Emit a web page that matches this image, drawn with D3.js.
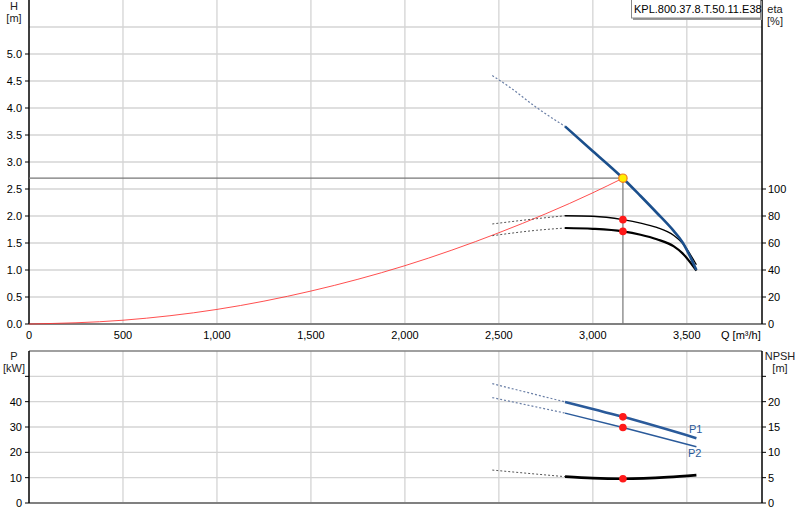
<!DOCTYPE html>
<html><head><meta charset="utf-8">
<script src="https://cdn.jsdelivr.net/npm/d3@7"></script>
<style>
body{margin:0;background:#fff;}
svg{display:block;font-family:"Liberation Sans",Arial,sans-serif;}
</style></head><body>
<svg id="c" width="800" height="520"></svg>
<script>
// ---------- data ----------
const qTicks = [0,500,1000,1500,2000,2500,3000,3500];
const hTicks = [0,0.5,1,1.5,2,2.5,3,3.5,4,4.5,5];
const hGrid = [0.5,1,1.5,2,2.5,3,3.5,4,4.5,5,5.5];
const etaTicks = [0,20,40,60,80,100];
const pTicks = [0,10,20,30,40,50];
const npshTicks = [0,5,10,15,20,25];

const hDashQ = [2465,2560,2700,2852];
const hDashV = [4.60,4.38,4.01,3.66];
const hQ = [2852,3000,3160,3254,3340,3431,3476,3551];
const hV = [3.66,3.20,2.70,2.37,2.06,1.72,1.52,1.00];

const eta1DashQ = [2465,2700,2852];
const eta1DashV = [74.1,78.0,80.2];
const eta1Q = [2852,3000,3160,3254,3340,3431,3476,3551];
const eta1V = [80.2,79.8,77.3,74.8,71.5,65.6,60.0,43.9];

const eta2DashQ = [2465,2700,2852];
const eta2DashV = [65.4,69.4,71.1];
const eta2Q = [2852,3000,3160,3254,3340,3431,3476,3551];
const eta2V = [71.1,70.5,68.6,66.1,62.8,57.5,52.5,39.5];

const sysQ = [0,500,1000,1500,2000,2500,3000,3160];
const sysV = [0,0.07,0.27,0.61,1.08,1.69,2.43,2.70];

const p1DashQ = [2465,2852], p1DashV = [47.1,39.9];
const p1Q = [2852,3160,3551], p1V = [39.9,34.0,25.6];
const p2DashQ = [2465,2852], p2DashV = [41.6,35.5];
const p2Q = [2852,3160,3551], p2V = [35.5,29.8,22.2];

const npshDashQ = [2465,2700,2852], npshDashV = [6.5,5.7,5.2];
const npshQ = [2852,3000,3160,3400,3551], npshV = [5.2,4.9,4.8,5.1,5.5];

const opQ = 3160, opH = 2.70, opEta1 = 77.3, opEta2 = 68.6, opP1 = 34.0, opP2 = 29.8, opNpsh = 4.8;
const pumpName = "KPL.800.37.8.T.50.11.E38";

// ---------- scales ----------
const svg = d3.select("#c");
const X0 = 29, X1 = 762;
const x = d3.scaleLinear().domain([0,3900]).range([X0,X1]);
const T0 = 0, T1 = 324;
const yH = d3.scaleLinear().domain([0,6]).range([T1,T0]);
const yEta = d3.scaleLinear().domain([0,240]).range([T1,T0]);
const B0 = 351, B1 = 503;
const yP = d3.scaleLinear().domain([0,60]).range([B1,B0]);
const yN = d3.scaleLinear().domain([0,30]).range([B1,B0]);

const gridC = "#d4d4d4";
const zip = (a,b)=>a.map((q,i)=>[q,b[i]]);

// grid top
const g = svg.append("g");
g.selectAll(".vg").data(qTicks.slice(1)).join("line")
  .attr("x1",d=>x(d)).attr("x2",d=>x(d)).attr("y1",T0).attr("y2",T1)
  .attr("stroke",gridC).attr("stroke-width",1.3);
g.selectAll(".hg").data(hGrid).join("line")
  .attr("x1",X0).attr("x2",X1).attr("y1",d=>yH(d)).attr("y2",d=>yH(d))
  .attr("stroke",gridC).attr("stroke-width",1.3);
// grid bottom
g.selectAll(".vg2").data(qTicks.slice(1)).join("line")
  .attr("x1",d=>x(d)).attr("x2",d=>x(d)).attr("y1",B0).attr("y2",B1)
  .attr("stroke",gridC).attr("stroke-width",1.3);
g.selectAll(".hg2").data(pTicks.slice(1)).join("line")
  .attr("x1",X0).attr("x2",X1).attr("y1",d=>yP(d)).attr("y2",d=>yP(d))
  .attr("stroke",gridC).attr("stroke-width",1.3);

// axes
function vAxis(scale, ticks, xpos, side, fmt, labelTicks){
  const a = svg.append("g");
  a.selectAll("line.t").data(ticks).join("line")
    .attr("x1",xpos).attr("x2",xpos + (side==="left"?-4:4))
    .attr("y1",d=>scale(d)).attr("y2",d=>scale(d))
    .attr("stroke","#000").attr("stroke-width",1);
  a.selectAll("text").data(labelTicks).join("text")
    .attr("x", xpos + (side==="left"?-7:6))
    .attr("y", d=>scale(d)).attr("dy","0.35em")
    .attr("text-anchor", side==="left"?"end":"start")
    .attr("font-size",11).attr("fill","#000")
    .text(fmt);
}
vAxis(yH, hTicks, X0, "left", d3.format(".1f"), hTicks);
vAxis(yEta, etaTicks, X1, "right", d=>d, etaTicks);
vAxis(yP, pTicks, X0, "left", d=>d, pTicks.slice(0,5));
vAxis(yN, npshTicks, X1, "right", d=>d, npshTicks.slice(0,5));

// frame lines
svg.append("line").attr("x1",X0).attr("x2",X1).attr("y1",T1).attr("y2",T1).attr("stroke","#808080").attr("stroke-width",2);
svg.append("line").attr("x1",X0).attr("x2",X1).attr("y1",B1).attr("y2",B1).attr("stroke","#808080").attr("stroke-width",2);
svg.append("line").attr("x1",X0).attr("x2",X1).attr("y1",B0).attr("y2",B0).attr("stroke","#808080").attr("stroke-width",1.5);
[X0,X1].forEach(xx=>{
  svg.append("line").attr("x1",xx).attr("x2",xx).attr("y1",T0).attr("y2",T1).attr("stroke","#000").attr("stroke-width",1.5);
  svg.append("line").attr("x1",xx).attr("x2",xx).attr("y1",B0).attr("y2",B1).attr("stroke","#000").attr("stroke-width",1.5);
});

// x tick labels
svg.selectAll(".xl").data(qTicks).join("text")
  .attr("x",d=>x(d)).attr("y",339).attr("text-anchor","middle")
  .attr("font-size",11).attr("fill","#000").text(d3.format(","));
svg.append("text").attr("x",721).attr("y",339).attr("font-size",11).text("Q [m³/h]");

// axis titles
function title(xp, y1, t1, t2, anchor){
  svg.append("text").attr("x",xp).attr("y",y1).attr("text-anchor",anchor).attr("font-size",11).attr("fill","#222").text(t1);
  svg.append("text").attr("x",xp).attr("y",y1+12).attr("text-anchor",anchor).attr("font-size",11).attr("fill","#222").text(t2);
}
title(14,10,"H","[m]","middle");
title(775,13,"eta","[%]","middle");
title(14,360,"P","[kW]","middle");
title(780,360,"NPSH","[m]","middle");

// operating lines
svg.append("line").attr("x1",X0).attr("x2",x(opQ)).attr("y1",yH(opH)).attr("y2",yH(opH)).attr("stroke","#777").attr("stroke-width",1.2);
svg.append("line").attr("x1",x(opQ)).attr("x2",x(opQ)).attr("y1",yH(opH)).attr("y2",T1).attr("stroke","#777").attr("stroke-width",1.2);

// curves
function curve(qs, vs, ys, color, w, dash, op){
  const line = d3.line().x(d=>x(d[0])).y(d=>ys(d[1])).curve(d3.curveMonotoneX);
  svg.append("path").datum(zip(qs,vs)).attr("d",line)
    .attr("fill","none").attr("stroke",color).attr("stroke-width",w)
    .attr("stroke-dasharray",dash||null).attr("opacity",op||1);
}
const blue = "#1b4f8c", pblue = "#2a5a9a";
curve(sysQ, sysV, yH, "#ff3030", 1, null, 0.85);
curve(hDashQ, hDashV, yH, "#6a7fa6", 1.2, "2,2");
curve(eta1DashQ, eta1DashV, yEta, "#555", 1, "2,2");
curve(eta1Q, eta1V, yEta, "#000", 1.3);
curve(eta2DashQ, eta2DashV, yEta, "#555", 1, "2,2");
curve(eta2Q, eta2V, yEta, "#000", 2.2);
curve(hQ, hV, yH, blue, 2.6);

curve(p1DashQ, p1DashV, yP, "#6a7fa6", 1.2, "2,2");
curve(p1Q, p1V, yP, pblue, 2.6);
curve(p2DashQ, p2DashV, yP, "#6a7fa6", 1.2, "2,2");
curve(p2Q, p2V, yP, pblue, 1.4);
curve(npshDashQ, npshDashV, yN, "#555", 1, "2,2");
curve(npshQ, npshV, yN, "#000", 2.6);

svg.append("text").attr("x",689).attr("y",433).attr("font-size",11).attr("fill",pblue).text("P1");
svg.append("text").attr("x",688).attr("y",457).attr("font-size",11).attr("fill",pblue).text("P2");

// points
function dot(q, v, ys){
  svg.append("circle").attr("cx",x(q)).attr("cy",ys(v)).attr("r",3.8).attr("fill","#ff1a1a");
}
dot(opQ, opEta1, yEta); dot(opQ, opEta2, yEta);
dot(opQ, opP1, yP); dot(opQ, opP2, yP); dot(opQ, opNpsh, yN);
svg.append("circle").attr("cx",x(opQ)).attr("cy",yH(opH)).attr("r",4.2)
  .attr("fill","#ffee00").attr("stroke","#f07a20").attr("stroke-width",1.2);

// legend box
const lb = svg.append("g");
lb.append("rect").attr("x",633).attr("y",1).attr("width",129).attr("height",19).attr("fill","#999");
lb.append("rect").attr("x",631.5).attr("y",-1).attr("width",129).attr("height",19).attr("fill","#fff").attr("stroke","#888");
lb.append("text").attr("x",634).attr("y",13).attr("font-size",11).attr("fill","#000").text(pumpName);
</script>
</body></html>
